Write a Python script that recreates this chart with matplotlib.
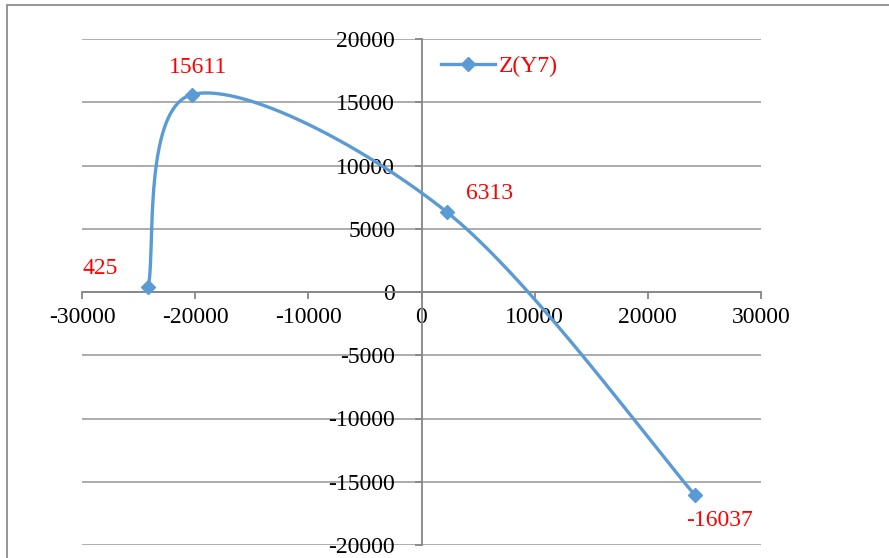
import numpy as np
import matplotlib
matplotlib.use("Agg")
import matplotlib.pyplot as plt
from matplotlib.patches import Rectangle

# data
x_vals = [-24150, -20270, 2250, 24150]
z_vals = [425, 15611, 6313, -16037]
series_name = "Z(Y7)"
x_ticks = [-30000, -20000, -10000, 0, 10000, 20000, 30000]
y_ticks = [-20000, -15000, -10000, -5000, 0, 5000, 10000, 15000, 20000]

# label offsets in pixels (text centre relative to the point)
label_offsets = [(-48, 18), (6, 27), (43, 19), (25, -26)]

BLUE = "#5B9BD5"
GRID = "#A6A6A6"
AXIS = "#868686"


def smooth_curve(xs, ys, n=60):
    """Excel-like smoothed line: cubic Bezier with Catmull-Rom control points."""
    p = np.column_stack([xs, ys]).astype(float)
    p_ext = np.vstack([p[0], p, p[-1]])
    out = []
    t = np.linspace(0, 1, n)[:, None]
    for i in range(len(p) - 1):
        p0, p1 = p_ext[i + 1], p_ext[i + 2]
        c1 = p0 + (p_ext[i + 2] - p_ext[i]) / 6
        c2 = p1 - (p_ext[i + 3] - p_ext[i + 1]) / 6
        seg = ((1 - t) ** 3) * p0 + 3 * ((1 - t) ** 2) * t * c1 \
            + 3 * (1 - t) * t ** 2 * c2 + t ** 3 * p1
        out.append(seg if i == 0 else seg[1:])
    curve = np.vstack(out)
    return curve[:, 0], curve[:, 1]


plt.rcParams["font.family"] = ["Liberation Serif", "DejaVu Serif"]
plt.rcParams["font.size"] = 17
plt.rcParams["axes.unicode_minus"] = False

W, H = 889, 558
fig = plt.figure(figsize=(W / 100, H / 100), dpi=100)
ax = fig.add_axes([82 / W, 13 / H, (761 - 82) / W, (545 - 39) / H])

# chart outer border (cropped on the right/bottom like the reference)
fig.patches.append(Rectangle((7 / W, -0.05), 1.2, 1 - 5 / H + 0.05,
                             transform=fig.transFigure, fill=False,
                             edgecolor="#8C8C8C", linewidth=1.3))

cx, cy = smooth_curve(x_vals, z_vals)
ax.plot(cx, cy, color=BLUE, linewidth=2.4, zorder=3)
ax.plot(x_vals, z_vals, linestyle="none", marker="D", markersize=7.5,
        color=BLUE, zorder=4)
# legend proxy
ax.plot([], [], color=BLUE, linewidth=2.4, marker="D", markersize=7.5,
        label=series_name)

for xv, zv, (dx, dy) in zip(x_vals, z_vals, label_offsets):
    ax.annotate(f"{zv}", (xv, zv), xytext=(dx, dy), textcoords="offset pixels",
                ha="center", va="center", color="red")

ax.set_xlim(-30000, 30000)
ax.set_ylim(-20000, 20000)
ax.set_xticks(x_ticks)
ax.set_yticks(y_ticks)

ax.grid(axis="y", color=GRID, linewidth=1.3)
ax.set_axisbelow(True)
for side in ["top", "right"]:
    ax.spines[side].set_visible(False)
ax.spines["left"].set_position(("data", 0))
ax.spines["bottom"].set_position(("data", 0))
for side in ["left", "bottom"]:
    ax.spines[side].set_color(AXIS)
    ax.spines[side].set_linewidth(1.3)
ax.tick_params(axis="x", direction="out", length=5, width=1.3, color=AXIS, pad=6)
ax.tick_params(axis="y", direction="out", length=5, width=1.3, color=AXIS, pad=14)

leg = ax.legend(loc="upper left", bbox_to_anchor=(441 / W, 1 - 56 / H),
                bbox_transform=fig.transFigure, frameon=False, borderpad=0,
                borderaxespad=0, handlelength=2.3, handletextpad=0.15)
for txt in leg.get_texts():
    txt.set_color("red")

fig.savefig("out.png", dpi=100)
